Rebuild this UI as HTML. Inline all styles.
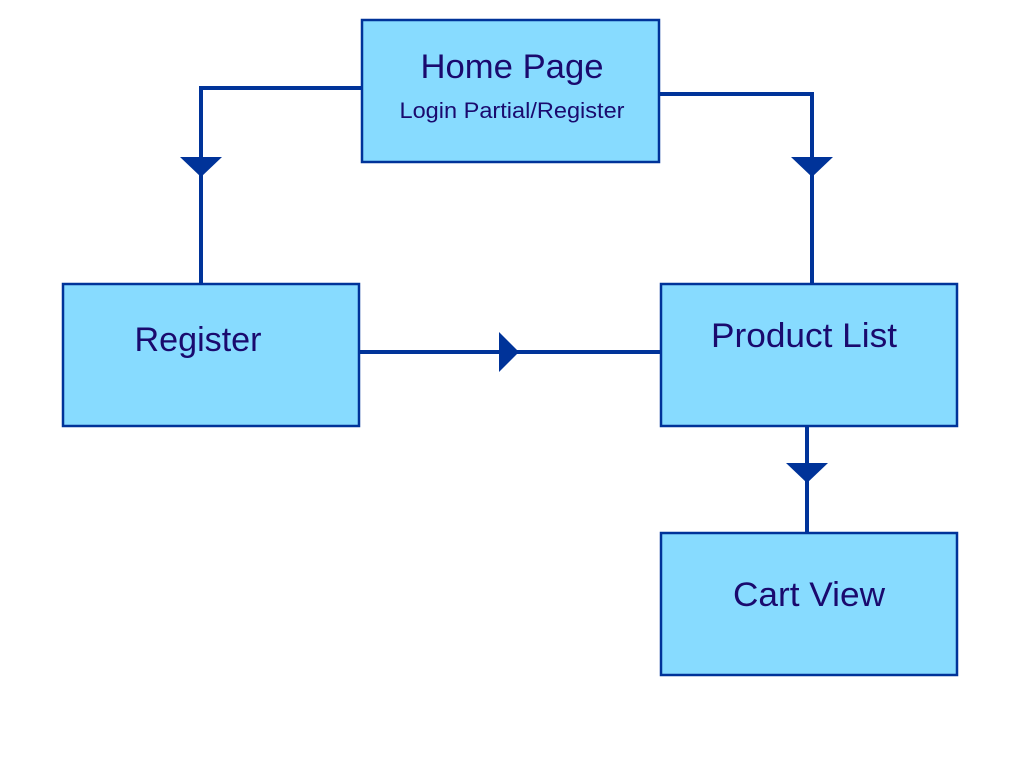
<!DOCTYPE html>
<html><head><meta charset="utf-8"><style>
html,body{margin:0;padding:0;background:#fff;width:1024px;height:768px;overflow:hidden}
svg text{font-family:"Liberation Sans",sans-serif;fill:#1a0a6e}
</style></head><body>
<svg width="1024" height="768" viewBox="0 0 1024 768" xmlns="http://www.w3.org/2000/svg">
<g fill="none" stroke="#003399" stroke-width="4">
<polyline points="362,88 201,88 201,284"/>
<polyline points="659,94 812,94 812,284"/>
<line x1="359" y1="352" x2="661" y2="352"/>
<line x1="807" y1="426" x2="807" y2="533"/>
</g>
<g fill="#003399">
<polygon points="180,157 222,157 201,177"/>
<polygon points="791,157 833,157 812,177"/>
<polygon points="499,332 499,372 519,352"/>
<polygon points="786,463 828,463 807,483"/>
</g>
<g fill="#87dbff" stroke="#003399" stroke-width="2.5">
<rect x="362" y="20" width="297" height="142"/>
<rect x="63" y="284" width="296" height="142"/>
<rect x="661" y="284" width="296" height="142"/>
<rect x="661" y="533" width="296" height="142"/>
</g>
<text x="512" y="78" font-size="34" text-anchor="middle" textLength="183" lengthAdjust="spacingAndGlyphs">Home Page</text>
<text x="512" y="118" font-size="22" text-anchor="middle" textLength="225" lengthAdjust="spacingAndGlyphs">Login Partial/Register</text>
<text x="198" y="351" font-size="34" text-anchor="middle" textLength="127" lengthAdjust="spacingAndGlyphs">Register</text>
<text x="804" y="347" font-size="34" text-anchor="middle" textLength="186" lengthAdjust="spacingAndGlyphs">Product List</text>
<text x="809" y="606" font-size="34" text-anchor="middle" textLength="152" lengthAdjust="spacingAndGlyphs">Cart View</text>
</svg>
</body></html>
